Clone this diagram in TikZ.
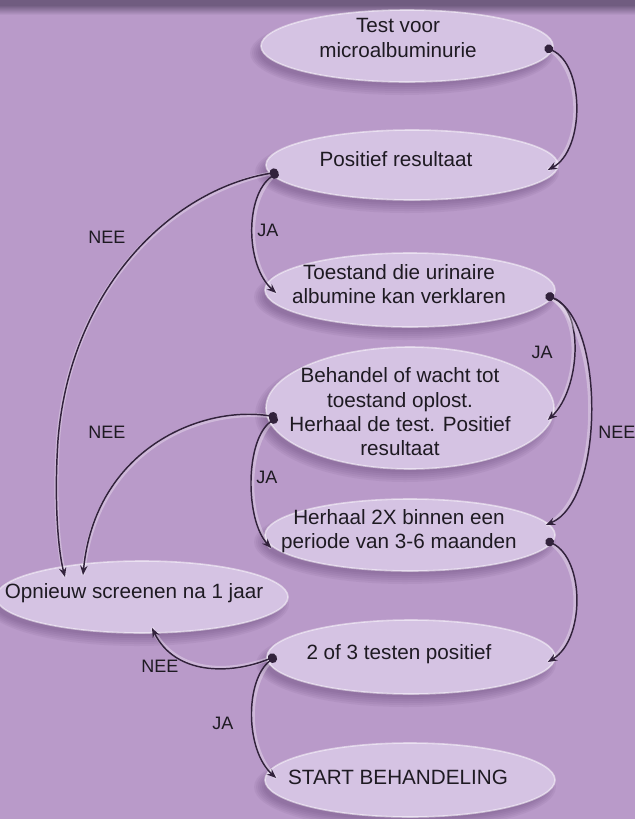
\documentclass[tikz,border=0pt]{standalone}
\usepackage{fontspec}
\setmainfont{Liberation Sans}
\usetikzlibrary{arrows.meta,calc,shapes.geometric}
\definecolor{bgc}{RGB}{185,154,201}
\definecolor{ellc}{RGB}{213,195,227}
\definecolor{shc}{RGB}{90,60,110}
\definecolor{linec}{RGB}{50,34,60}
\definecolor{txtc}{RGB}{30,26,34}
\definecolor{bandc}{RGB}{112,92,128}
\tikzset{
  box/.style={ellipse, inner sep=0pt, fill=ellc, draw=white, draw opacity=0.5, line width=1.2pt},
  lbl/.style={font=\fontsize{15.5}{18.2}\selectfont, text=txtc, align=center, inner sep=0pt},
  yn/.style={font=\fontsize{13.5}{16}\selectfont, text=txtc, inner sep=0pt},
  conn/.style={draw=linec, line width=1.1pt, {Circle[length=6.5pt]}-{Stealth[length=7pt,width=5.5pt]},
    preaction={draw=white, draw opacity=0.3, line width=3pt, -}},
}
\newcommand\ellshade[4]{%
  \foreach \k in {0,...,5}{%
    \fill[shc, opacity=0.08] (#1-5,#2+7) ellipse [x radius={#3+6-2*\k}, y radius={#4+6-2*\k}];}}
\begin{document}
\begin{tikzpicture}[x=0.75pt,y=-0.75pt]
\useasboundingbox (0,0) rectangle (635,819);
\fill[bgc] (0,0) rectangle (635,819);
\shade[top color=bandc, bottom color=bgc] (0,5) rectangle (635,15);
\fill[bandc] (0,0) rectangle (635,5);

% shadows
\ellshade{407}{46}{146}{36}
\ellshade{412}{165}{146}{35}
\ellshade{410}{290}{145}{37}
\ellshade{410}{408}{144}{61}
\ellshade{410}{535}{145}{36}
\ellshade{142}{597}{146}{36}
\ellshade{411}{657}{144}{37}
\ellshade{410}{780}{145}{37}

% ellipses
\node[box, minimum width=219pt, minimum height=54pt] (e1) at (407,46) {};
\node[box, minimum width=219pt, minimum height=52.5pt] (e2) at (412,165) {};
\node[box, minimum width=217.5pt, minimum height=55.5pt] (e3) at (410,290) {};
\node[box, minimum width=216pt, minimum height=91.5pt] (e4) at (410,408) {};
\node[box, minimum width=217.5pt, minimum height=54pt] (e5) at (410,535) {};
\node[box, minimum width=219pt, minimum height=54pt] (e6) at (142,597) {};
\node[box, minimum width=216pt, minimum height=55.5pt] (e7) at (411,657) {};
\node[box, minimum width=217.5pt, minimum height=55.5pt] (e8) at (410,780) {};

% connector ends
\coordinate (d1) at ($(e1.east)+(-9,1)$);
\coordinate (a2r) at ($(e2.east)+(-11,5)$);
\coordinate (d2l) at ($(e2.west)+(13,7)$);
\coordinate (a3l) at ($(e3.west)+(12,3)$);
\coordinate (d3r) at ($(e3.east)+(-10,5)$);
\coordinate (a4r) at ($(e4.east)+(-7,12)$);
\coordinate (d4l) at ($(e4.west)+(12,9)$);
\coordinate (a5r) at ($(e5.east)+(-10,-10)$);
\coordinate (a5l) at ($(e5.west)+(7,13)$);
\coordinate (d5r) at ($(e5.east)+(-10,5)$);
\coordinate (a6a) at ($(e6.center)+(-77,-20)$);
\coordinate (a6b) at ($(e6.center)+(-59,-22)$);
\coordinate (a6c) at ($(e6.center)+(10,31)$);
\coordinate (a7r) at ($(e7.east)+(-8,5)$);
\coordinate (d7l) at ($(e7.west)+(10,-1)$);
\coordinate (a8l) at ($(e8.west)+(12,-2)$);

% connectors
\draw[conn] (d1) .. controls (585,65) and (585,150) .. (a2r);
\draw[conn] (d2l) .. controls (245,195) and (245,265) .. (a3l);
\draw[conn] (d2l) .. controls (170,190) and (70,290) .. (58,440) .. controls (54,500) and (58,550) .. (a6a);
\draw[conn] (d3r) .. controls (585,310) and (580,390) .. (a4r);
\draw[conn] (d3r) .. controls (605,320) and (605,500) .. (a5r);
\draw[conn] (d4l) .. controls (200,405) and (95,450) .. (a6b);
\draw[conn] (d4l) .. controls (245,440) and (245,520) .. (a5l);
\draw[conn] (d5r) .. controls (585,560) and (585,640) .. (a7r);
\draw[conn] (d7l) .. controls (230,675) and (175,675) .. (a6c);
\draw[conn] (d7l) .. controls (245,680) and (245,750) .. (a8l);

% texts
\node[lbl] (t1) at (398,38) {Test voor\\microalbuminurie};
\node[lbl] (t2) at (396,159) {Positief resultaat};
\node[lbl] (t3) at (399,284) {Toestand die urinaire\\albumine kan verklaren};
\node[lbl] (t4) at (400,412) {Behandel of wacht tot\\toestand oplost.\\Herhaal de test. Positief\\resultaat};
\node[lbl] (t5) at (399,531) {Herhaal 2X binnen een\\periode van 3-6 maanden};
\node[lbl] (t6) at (134,593) {Opnieuw screenen na 1 jaar};
\node[lbl] (t7) at (399,654) {2 of 3 testen positief};
\node[lbl] (t8) at (398,777) {START BEHANDELING};

% labels
\node[yn] (n1) at (107,237) {NEE};
\node[yn] (j1) at (268,230) {JA};
\node[yn] (j2) at (542,352) {JA};
\node[yn] (n2) at (617,432) {NEE};
\node[yn] (n3) at (107,432) {NEE};
\node[yn] (j3) at (267,477) {JA};
\node[yn] (n4) at (160,666) {NEE};
\node[yn] (j4) at (223,723) {JA};
\end{tikzpicture}
\end{document}
